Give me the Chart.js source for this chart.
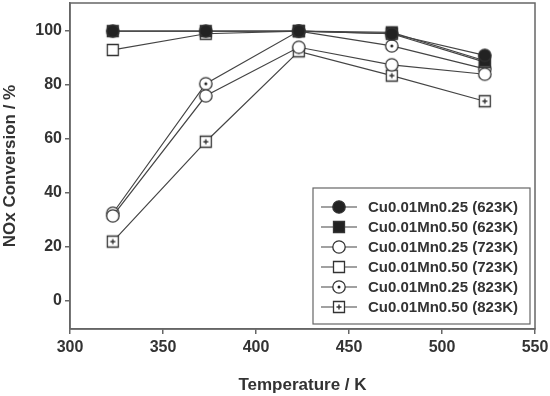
<!DOCTYPE html>
<html>
<head>
<meta charset="utf-8">
<script src="https://cdn.jsdelivr.net/npm/chart.js@4/dist/chart.umd.min.js"></script>
<style>
    html, body { margin: 0; padding: 0; background: #fff; }
    #wrap { width: 550px; height: 396px; }
</style>
</head>
<body>
<div id="wrap"><canvas id="nox"></canvas></div>
<script>
// data
const temps = [323, 373, 423, 473, 523];
const mn25_623 = [100, 100, 100, 99, 91];
const mn50_623 = [100, 100, 100, 99.5, 89];
const mn25_723 = [31.5, 76, 94, 87.5, 84];
const mn50_723 = [93, 99, 100, 99, 88.5];
const mn25_823 = [32.5, 80.5, 100, 94.5, 86];
const mn50_823 = [22, 59, 92.5, 83.5, 74];
const xTicks = [300, 350, 400, 450, 500, 550];
const yTicks = [0, 20, 40, 60, 80, 100];

const FONT = "'Liberation Sans', Arial, Helvetica, sans-serif";
const INK = "#333";

// marker images
function makeMarker(kind) {
    const s = 16;
    const c = document.createElement("canvas");
    c.width = s; c.height = s;
    const g = c.getContext("2d");
    const m = s / 2;
    g.lineWidth = 1.3;
    g.strokeStyle = INK;
    if (kind.startsWith("circle")) {
        g.beginPath();
        g.arc(m, m, 6.2, 0, Math.PI * 2);
    } else {
        g.beginPath();
        g.rect(m - 5.5, m - 5.5, 11, 11);
    }
    g.fillStyle = kind.endsWith("Filled") ? "#222" : "#fff";
    g.fill();
    g.stroke();
    if (kind === "circleDot") {
        g.beginPath();
        g.arc(m, m, 1.5, 0, Math.PI * 2);
        g.fillStyle = "#222";
        g.fill();
    }
    if (kind === "squarePlus") {
        g.beginPath();
        g.moveTo(m - 2.5, m); g.lineTo(m + 2.5, m);
        g.moveTo(m, m - 2.5); g.lineTo(m, m + 2.5);
        g.lineWidth = 1.4;
        g.stroke();
    }
    return c;
}

const seriesDefs = [
    { label: "Cu0.01Mn0.25 (623K)", values: mn25_623, marker: "circleFilled" },
    { label: "Cu0.01Mn0.50 (623K)", values: mn50_623, marker: "squareFilled" },
    { label: "Cu0.01Mn0.25 (723K)", values: mn25_723, marker: "circle" },
    { label: "Cu0.01Mn0.50 (723K)", values: mn50_723, marker: "square" },
    { label: "Cu0.01Mn0.25 (823K)", values: mn25_823, marker: "circleDot" },
    { label: "Cu0.01Mn0.50 (823K)", values: mn50_823, marker: "squarePlus" },
];

const datasets = seriesDefs.map(s => ({
    label: s.label,
    data: s.values.map((v, i) => ({ x: temps[i], y: v })),
    borderColor: "#444",
    borderWidth: 1.2,
    pointStyle: makeMarker(s.marker),
    pointRadius: 6,
    fill: false,
    tension: 0,
}));

// frame around plot area
const framePlugin = {
    id: "frame",
    beforeDatasetsDraw(chart) {
        const a = chart.chartArea;
        const ctx = chart.ctx;
        ctx.save();
        ctx.strokeStyle = "#666";
        ctx.lineWidth = 1.5;
        ctx.strokeRect(a.left, a.top, a.right - a.left, a.bottom - a.top);
        ctx.restore();
    },
};

// boxed legend with line + marker samples
const legendPlugin = {
    id: "boxLegend",
    afterDraw(chart) {
        const ctx = chart.ctx;
        const x0 = 313, y0 = 188, w = 217, h = 136;
        ctx.save();
        ctx.fillStyle = "#fff";
        ctx.fillRect(x0, y0, w, h);
        ctx.strokeStyle = "#666";
        ctx.lineWidth = 1.2;
        ctx.strokeRect(x0, y0, w, h);
        ctx.font = "bold 15px " + FONT;
        ctx.textBaseline = "middle";
        ctx.fillStyle = INK;
        chart.data.datasets.forEach((ds, i) => {
            const y = 207 + i * 20;
            ctx.beginPath();
            ctx.moveTo(321, y);
            ctx.lineTo(357, y);
            ctx.strokeStyle = "#444";
            ctx.lineWidth = 1.2;
            ctx.stroke();
            const img = ds.pointStyle;
            ctx.drawImage(img, 339 - img.width / 2, y - img.height / 2);
            ctx.fillText(ds.label, 368, y + 1);
        });
        ctx.restore();
    },
};

new Chart(document.getElementById("nox"), {
    type: "line",
    data: { datasets: datasets },
    options: {
        responsive: true,
        maintainAspectRatio: false,
        animation: false,
        layout: { autoPadding: false, padding: { top: 3, right: 15, left: 0, bottom: 0 } },
        plugins: {
            legend: { display: false },
            tooltip: { enabled: false },
        },
        scales: {
            x: {
                type: "linear",
                min: 300,
                max: 550,
                afterBuildTicks: axis => { axis.ticks = xTicks.map(v => ({ value: v })); },
                afterFit: axis => { axis.height = 67; axis.paddingLeft = 0; axis.paddingRight = 0; },
                grid: { display: true, drawOnChartArea: false, tickLength: 5, color: "#666", lineWidth: 1.5 },
                border: { color: "#666", width: 1.5 },
                ticks: { color: INK, padding: 4, maxRotation: 0, font: { family: FONT, size: 16, weight: "bold" } },
                title: {
                    display: true,
                    text: "Temperature / K",
                    color: INK,
                    padding: { top: 6, bottom: 0 },
                    font: { family: FONT, size: 17, weight: "bold" },
                },
            },
            y: {
                min: -10.4,
                max: 110.4,
                afterBuildTicks: axis => { axis.ticks = yTicks.map(v => ({ value: v })); },
                afterFit: axis => { axis.width = 70; axis.paddingTop = 0; axis.paddingBottom = 0; },
                grid: { display: true, drawOnChartArea: false, tickLength: 5, color: "#666", lineWidth: 1.5 },
                border: { color: "#666", width: 1.5 },
                ticks: { color: INK, padding: 3, font: { family: FONT, size: 16, weight: "bold" } },
                title: {
                    display: true,
                    text: "NOx Conversion / %",
                    color: INK,
                    padding: { top: 0, bottom: 0 },
                    font: { family: FONT, size: 17, weight: "bold" },
                },
            },
        },
    },
    plugins: [framePlugin, legendPlugin],
});
</script>
</body>
</html>
